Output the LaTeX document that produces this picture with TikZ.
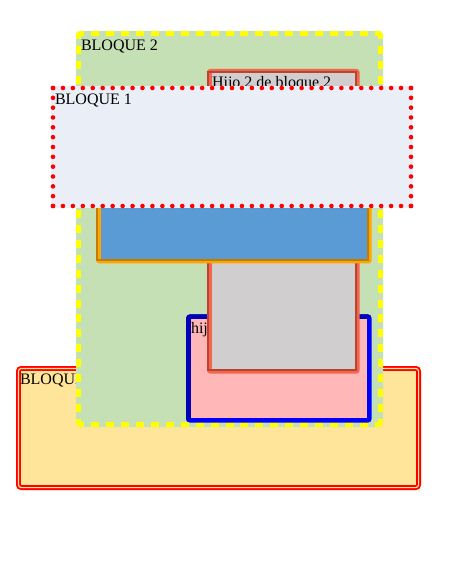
\documentclass[tikz,border=0pt]{standalone}
\usepackage{fontspec}
\setmainfont{Liberation Serif}
\definecolor{bthreefill}{HTML}{FFE599}
\definecolor{btwofill}{HTML}{C5E0B4}
\definecolor{bonefill}{HTML}{EAEFF7}
\definecolor{pinkfill}{HTML}{FFB7B7}
\definecolor{grayfill}{HTML}{D0CECE}
\definecolor{bluefill}{HTML}{5B9BD5}
\definecolor{tomL}{HTML}{F4664C}
\definecolor{tomD}{HTML}{B8452F}
\definecolor{orL}{HTML}{FFA500}
\definecolor{orD}{HTML}{BF7C00}
\definecolor{blueL}{HTML}{0000FF}
\definecolor{blueD}{HTML}{0000B4}
\definecolor{pureyellow}{HTML}{FFFF00}
\definecolor{purered}{HTML}{FF0000}
\begin{document}
\begin{tikzpicture}[x=1pt,y=-1pt,
  lbl/.style={anchor=base west, inner sep=0pt, outer sep=0pt, font=\fontsize{16}{19}\selectfont},
  yeldash/.style={pureyellow, line width=5pt},
  reddot/.style={purered, line width=4.6pt, line cap=round}]
\useasboundingbox (0,0) rectangle (468,588);

% ---------- BLOQUE 3 ----------
\fill[bthreefill, rounded corners=4pt] (16,366) rectangle (421,490);
\draw[purered, line width=1.8pt, double=bthreefill, double distance=1.2pt, rounded corners=3pt]
  (18.4,368.4) rectangle (418.6,487.6);
\node[lbl] (lblthree) at (20,384.5) {BLOQUE 3};

% ---------- BLOQUE 2 ----------
\fill[btwofill, rounded corners=4pt] (76,31) rectangle (383,427);
\begin{scope}
  \clip[rounded corners=4pt] (76,31) rectangle (383,427);
  \draw[yeldash, dash pattern=on 8pt off 6.95pt] (76,33.5) -- (383,33.5);
  \draw[yeldash, dash pattern=on 8pt off 6.95pt] (76,424.5) -- (383,424.5);
  \draw[yeldash, dash pattern=on 8pt off 6.92pt] (78.5,31) -- (78.5,427);
  \draw[yeldash, dash pattern=on 8pt off 6.92pt] (380.5,31) -- (380.5,427);
\end{scope}
\node[lbl] (lbltwo) at (81,50.5) {BLOQUE 2};

% ---------- hijo (pink, blue inset border) ----------
\fill[blueL, rounded corners=4pt] (186,314.3) rectangle (371.7,422.7);
\begin{scope}
  \clip[rounded corners=4pt] (186,314.3) rectangle (371.7,422.7);
  \fill[blueD] (186,422.7) -- (191,417.7) -- (191,319.3) -- (366.7,319.3) -- (371.7,314.3) -- (186,314.3) -- cycle;
\end{scope}
\fill[pinkfill] (191,319.3) rectangle (366.7,417.7);
\node[lbl] (lblhijo) at (191,333) {hijo 1 de bloque 2};

% ---------- Hijo 2 de bloque 2 (gray, groove border) ----------
\fill[tomL, rounded corners=3pt] (207,69) rectangle (359.5,373.5);
\fill[tomD] (207,71.25) rectangle (209.25,371.25);
\fill[tomD] (209.25,71.25) rectangle (357.25,371.25);
\fill[tomL] (209.25,73.5) rectangle (211.5,369);
\fill[grayfill] (211.5,73.5) rectangle (355,369);
\node[lbl] (lblhijotwo) at (212,88) {Hijo 2 de bloque 2};

% ---------- blue box (orange groove border) ----------
\fill[orL, rounded corners=3pt] (96,140) rectangle (371.7,263.3);
\fill[orD] (96,142.35) rectangle (98.35,260.95);
\fill[orD] (98.35,142.35) rectangle (369.35,260.95);
\fill[orL] (98.35,144.7) rectangle (100.7,258.6);
\fill[bluefill] (100.7,144.7) rectangle (367,258.6);

% ---------- BLOQUE 1 ----------
\fill[bonefill] (51,86) rectangle (413,208);
\draw[reddot, dash pattern=on 0pt off 9.9444pt] (53,88) -- (411,88);
\draw[reddot, dash pattern=on 0pt off 9.9444pt] (53,206) -- (411,206);
\draw[reddot, dash pattern=on 0pt off 9.8333pt] (53,88) -- (53,206);
\draw[reddot, dash pattern=on 0pt off 9.8333pt] (411,88) -- (411,206);
\node[lbl] (lblone) at (55,105) {BLOQUE 1};
\end{tikzpicture}
\end{document}
